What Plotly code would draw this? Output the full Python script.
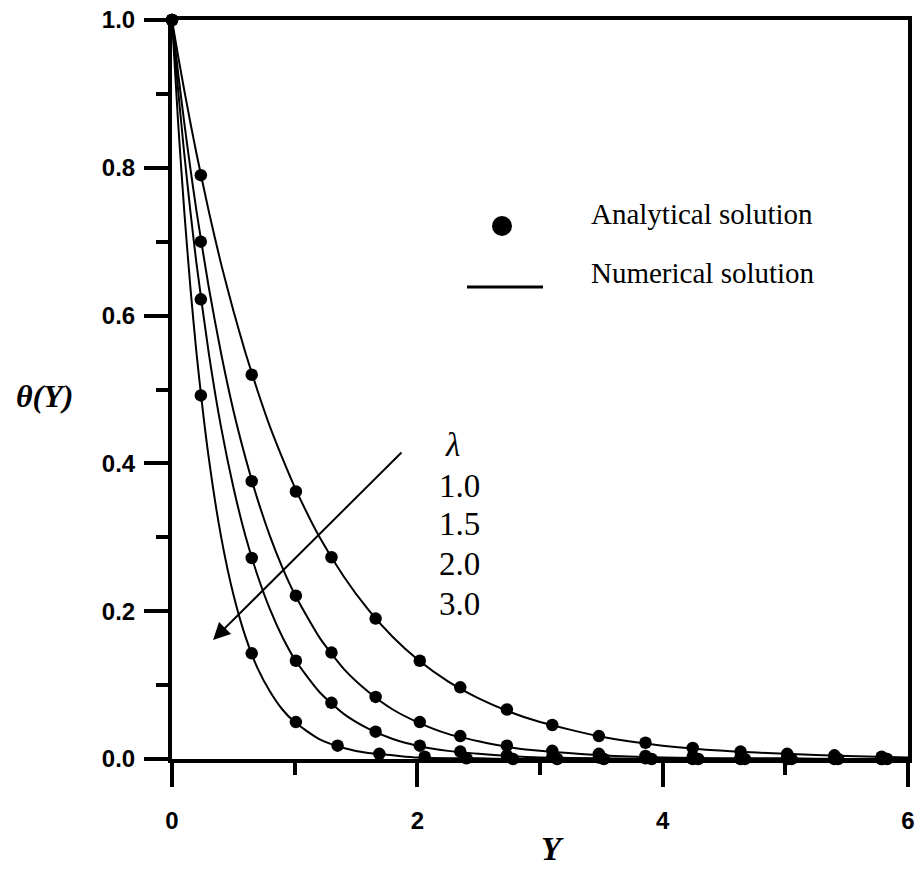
import plotly.graph_objects as go

# ---------------- data ----------------
lambdas = ["1.0", "1.5", "2.0", "3.0"]

# analytical solution (markers)
Y_pts_a = [0, 0.235, 0.65, 1.01, 1.30, 1.66, 2.02, 2.35, 2.73, 3.10, 3.48, 3.86, 4.245, 4.635, 5.015, 5.40, 5.785]
Y_pts_b = [0, 0.235, 0.65, 1.01, 1.35, 1.69, 2.06, 2.40, 2.78, 3.14, 3.52, 3.91, 4.29, 4.67, 5.05, 5.43, 5.83]
theta_a_10 = [1.0, 0.790, 0.520, 0.362, 0.273, 0.190, 0.133, 0.097, 0.067, 0.046, 0.031, 0.022, 0.015, 0.010, 0.007, 0.005, 0.003]
theta_a_15 = [1.0, 0.700, 0.376, 0.221, 0.144, 0.084, 0.050, 0.031, 0.018, 0.011, 0.007, 0.004, 0.003, 0.002, 0.001, 0.001, 0.000]
theta_a_20 = [1.0, 0.622, 0.272, 0.133, 0.076, 0.037, 0.018, 0.010, 0.005, 0.003, 0.002, 0.001, 0.000, 0.000, 0.000, 0.000, 0.000]
theta_a_30 = [1.0, 0.492, 0.143, 0.050, 0.018, 0.007, 0.003, 0.001, 0.000, 0.000, 0.000, 0.000, 0.000, 0.000, 0.000, 0.000, 0.000]

# numerical solution (lines)
Y_line = [0, 0.05, 0.1, 0.15, 0.2, 0.3, 0.4, 0.5, 0.6, 0.7, 0.8, 0.9, 1.0, 1.2, 1.4, 1.6, 1.8,
          2.0, 2.25, 2.5, 2.75, 3.0, 3.5, 4.0, 4.5, 5.0, 5.5, 6.0]
theta_n_10 = [1.000, 0.951, 0.905, 0.861, 0.819, 0.741, 0.670, 0.607, 0.549, 0.497, 0.449, 0.407, 0.368, 0.301, 0.247, 0.202, 0.165,
              0.135, 0.105, 0.082, 0.064, 0.050, 0.030, 0.018, 0.011, 0.007, 0.004, 0.002]
theta_n_15 = [1.000, 0.928, 0.861, 0.799, 0.741, 0.638, 0.549, 0.472, 0.407, 0.350, 0.301, 0.259, 0.223, 0.165, 0.122, 0.091, 0.067,
              0.050, 0.034, 0.024, 0.016, 0.011, 0.005, 0.002, 0.001, 0.001, 0.000, 0.000]
theta_n_20 = [1.000, 0.905, 0.819, 0.741, 0.670, 0.549, 0.449, 0.368, 0.301, 0.247, 0.202, 0.165, 0.135, 0.091, 0.061, 0.041, 0.027,
              0.018, 0.011, 0.007, 0.004, 0.002, 0.001, 0.000, 0.000, 0.000, 0.000, 0.000]
theta_n_30 = [1.000, 0.861, 0.741, 0.638, 0.549, 0.407, 0.301, 0.223, 0.165, 0.122, 0.091, 0.067, 0.050, 0.027, 0.015, 0.008, 0.005,
              0.002, 0.001, 0.001, 0.000, 0.000, 0.000, 0.000, 0.000, 0.000, 0.000, 0.000]

x_tick_vals = [0, 2, 4, 6]
y_tick_vals = [0.0, 0.2, 0.4, 0.6, 0.8, 1.0]
y_tick_text = ["0.0", "0.2", "0.4", "0.6", "0.8", "1.0"]

# ---------------- layout geometry ----------------
W, H = 920, 871
L, R, T, B = 172, 908, 20, 759  # plot area in page pixels


def pxx(px):
    return (px - L) / (R - L)


def pxy(py):
    return (B - py) / (B - T)


serif = "Liberation Serif, Times New Roman, serif"
sans = "Liberation Sans, Arial, sans-serif"

fig = go.Figure()

line_sets = [theta_n_10, theta_n_15, theta_n_20, theta_n_30]
for vals in line_sets:
    fig.add_trace(go.Scatter(x=Y_line, y=vals, mode="lines",
                             line=dict(color="black", width=2, shape="spline", smoothing=0.6),
                             showlegend=False, hoverinfo="skip"))

pt_sets = [(Y_pts_a, theta_a_10), (Y_pts_a, theta_a_15), (Y_pts_a, theta_a_20), (Y_pts_b, theta_a_30)]
for xs, vals in pt_sets:
    fig.add_trace(go.Scatter(x=xs, y=vals, mode="markers",
                             marker=dict(color="black", size=12.5, line=dict(width=0)),
                             cliponaxis=False, showlegend=False, hoverinfo="skip"))

axis_common = dict(showline=True, linecolor="black", linewidth=4, mirror=True,
                   showgrid=False, zeroline=False, ticks="outside", tickcolor="black",
                   tickwidth=4, ticklen=24, layer="below traces", automargin=False,
                   tickfont=dict(family=sans, size=24, color="black", weight="bold"))

fig.update_xaxes(range=[0, 6], tickvals=x_tick_vals, ticklabelstandoff=13,
                 minor=dict(dtick=1, ticks="outside", ticklen=12, tickwidth=4, tickcolor="black", showgrid=False),
                 **axis_common)
fig.update_yaxes(range=[0, 1], tickvals=y_tick_vals, ticktext=y_tick_text, ticklabelstandoff=4,
                 minor=dict(dtick=0.1, ticks="outside", ticklen=12, tickwidth=4, tickcolor="black", showgrid=False),
                 **axis_common)

ann = []
# axis titles
ann.append(dict(x=pxx(44), y=pxy(396), xref="paper", yref="paper", text="θ(Y)", showarrow=False,
                xanchor="center", yanchor="middle",
                font=dict(family=serif, size=32, color="black", weight="bold", style="italic")))
ann.append(dict(x=pxx(552), y=pxy(849), xref="paper", yref="paper", text="Y", showarrow=False,
                xanchor="center", yanchor="middle",
                font=dict(family=serif, size=33, color="black", weight="bold", style="italic")))
# legend texts
ann.append(dict(x=pxx(589), y=pxy(214), xref="paper", yref="paper", text="Analytical solution",
                showarrow=False, xanchor="left", yanchor="middle",
                font=dict(family=serif, size=29, color="black")))
ann.append(dict(x=pxx(589), y=pxy(273), xref="paper", yref="paper", text="Numerical solution",
                showarrow=False, xanchor="left", yanchor="middle",
                font=dict(family=serif, size=29, color="black")))
# lambda labels
ann.append(dict(x=pxx(452), y=pxy(445), xref="paper", yref="paper", text="λ", showarrow=False,
                xanchor="center", yanchor="middle",
                font=dict(family=serif, size=33, color="black", style="italic")))
lab_y = [486, 524, 564, 604]
for lab, yy in zip(lambdas, lab_y):
    ann.append(dict(x=pxx(459), y=pxy(yy), xref="paper", yref="paper", text=lab, showarrow=False,
                    xanchor="center", yanchor="middle",
                    font=dict(family=serif, size=33, color="black")))
# arrow
ann.append(dict(x=pxx(213), y=pxy(640), xref="paper", yref="paper", text="", showarrow=True,
                ax=190, ay=-189, arrowhead=2, arrowsize=1.7, arrowwidth=2, arrowcolor="black",
                standoff=0, startstandoff=0))

shapes = [
    dict(type="circle", xref="paper", yref="paper", x0=pxx(492), x1=pxx(512),
         y0=pxy(236), y1=pxy(216), fillcolor="black", line=dict(width=0)),
    dict(type="line", xref="paper", yref="paper", x0=pxx(467), x1=pxx(543),
         y0=pxy(287), y1=pxy(287), line=dict(color="black", width=3)),
]

fig.update_layout(width=W, height=H,
                  margin=dict(l=L, r=W - R, t=T, b=H - B, autoexpand=False),
                  paper_bgcolor="white", plot_bgcolor="white", showlegend=False,
                  annotations=ann, shapes=shapes)

fig.write_html("out.html", config={"displayModeBar": False},
               post_script="document.body.style.margin='0';document.body.style.overflow='hidden';")
